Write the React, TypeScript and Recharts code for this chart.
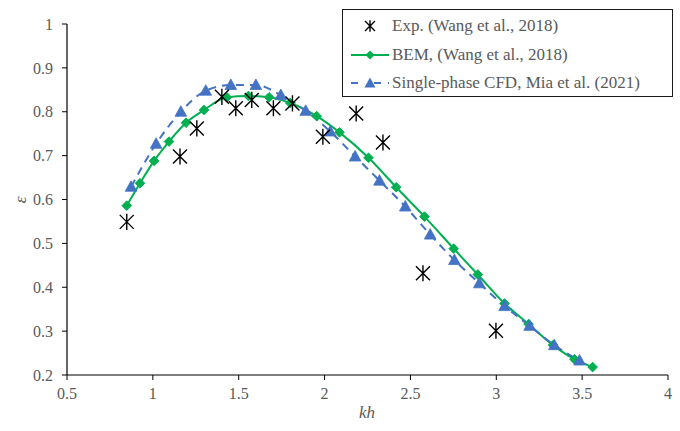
import React from 'react'
import { ComposedChart, Line, XAxis, YAxis, Label } from 'recharts'

// Exp. (Wang et al., 2018)
const expKh = [0.848, 1.158, 1.256, 1.402, 1.483, 1.576, 1.702, 1.813, 1.99, 2.184, 2.34, 2.573, 2.998]
const expEps = [0.549, 0.698, 0.762, 0.834, 0.808, 0.827, 0.808, 0.819, 0.743, 0.796, 0.73, 0.432, 0.301]

// BEM, (Wang et al., 2018)
const bemKh = [0.848, 0.925, 1.007, 1.094, 1.193, 1.298, 1.431, 1.557, 1.677, 1.8, 1.954, 2.087, 2.256, 2.417, 2.582, 2.752, 2.892, 3.048, 3.188, 3.33, 3.455, 3.561]
const bemEps = [0.586, 0.637, 0.688, 0.732, 0.775, 0.804, 0.833, 0.836, 0.833, 0.82, 0.79, 0.753, 0.695, 0.628, 0.561, 0.488, 0.429, 0.363, 0.316, 0.268, 0.236, 0.218]

// Single-phase CFD, Mia et al. (2021)
const cfdKh = [0.873, 1.019, 1.163, 1.308, 1.454, 1.6, 1.745, 1.89, 2.033, 2.178, 2.32, 2.47, 2.615, 2.756, 2.901, 3.048, 3.194, 3.338, 3.485]
const cfdEps = [0.629, 0.727, 0.8, 0.848, 0.861, 0.861, 0.838, 0.802, 0.755, 0.698, 0.643, 0.584, 0.52, 0.462, 0.409, 0.357, 0.312, 0.268, 0.233]

const xTicks = [0.5, 1, 1.5, 2, 2.5, 3, 3.5, 4]
const yTicks = [0.2, 0.3, 0.4, 0.5, 0.6, 0.7, 0.8, 0.9, 1]

const toRows = (xs: number[], ys: number[]) => xs.map((x, i) => ({ x, y: ys[i] }))
const expData = toRows(expKh, expEps)
const bemData = toRows(bemKh, bemEps)
const cfdData = toRows(cfdKh, cfdEps)

const GREEN = '#00B050'
const BLUE = '#4472C4'
const FONT = 'Liberation Serif'
const GREY = '#595959'

const asteriskPath = (cx: number, cy: number, r: number) =>
  `M${cx - r},${cy - r}L${cx + r},${cy + r}M${cx - r},${cy + r}L${cx + r},${cy - r}M${cx},${cy - r * 1.15}L${cx},${cy + r * 1.15}`

const AsteriskDot = (props: any) => {
  const { cx, cy, index } = props
  if (cx == null || cy == null) return <g key={index} />
  return <path key={index} d={asteriskPath(cx, cy, 7)} stroke="#000" strokeWidth={1.4} fill="none" />
}

const DiamondDot = (props: any) => {
  const { cx, cy, index } = props
  if (cx == null || cy == null) return <g key={index} />
  const r = 4.8
  return <path key={index} d={`M${cx},${cy - r}L${cx + r},${cy}L${cx},${cy + r}L${cx - r},${cy}Z`} fill={GREEN} stroke={GREEN} strokeWidth={1} />
}

const TriangleDot = (props: any) => {
  const { cx, cy, index } = props
  if (cx == null || cy == null) return <g key={index} />
  return <path key={index} d={`M${cx},${cy - 6}L${cx + 5.8},${cy + 4.5}L${cx - 5.8},${cy + 4.5}Z`} fill={BLUE} stroke={BLUE} strokeWidth={0.8} />
}

function LegendBox() {
  const row = { display: 'flex', alignItems: 'center', height: 28.5 } as const
  const text = { fontFamily: FONT, fontSize: 17, color: GREY, marginLeft: 3, whiteSpace: 'nowrap' } as const
  return (
    <div
      style={{
        position: 'absolute',
        left: 342,
        top: 9,
        width: 331,
        height: 88,
        boxSizing: 'border-box',
        border: '1.3px solid #1a1a1a',
        background: '#fff',
        paddingTop: 2,
        paddingLeft: 6
      }}
    >
      <div style={row}>
        <svg width={40} height={20}>
          <path d={asteriskPath(21, 10, 5)} stroke="#000" strokeWidth={1.4} fill="none" />
        </svg>
        <span style={text}>Exp. (Wang et al., 2018)</span>
      </div>
      <div style={row}>
        <svg width={40} height={20}>
          <line x1={2} y1={10} x2={40} y2={10} stroke={GREEN} strokeWidth={2} />
          <path d="M21,5.5L25.5,10L21,14.5L16.5,10Z" fill={GREEN} />
        </svg>
        <span style={text}>BEM, (Wang et al., 2018)</span>
      </div>
      <div style={row}>
        <svg width={40} height={20}>
          <line x1={2} y1={10} x2={40} y2={10} stroke={BLUE} strokeWidth={2} strokeDasharray="7 8 0 8 7" />
          <path d="M21,4.5L26.5,14.5L15.5,14.5Z" fill={BLUE} />
        </svg>
        <span style={text}>Single-phase CFD, Mia et al. (2021)</span>
      </div>
    </div>
  )
}

export default function App() {
  const tick = { fill: GREY, fontSize: 16, fontFamily: FONT }
  return (
    <div style={{ position: 'absolute', left: 0, top: 0, width: 680, height: 431, background: '#fff', fontFamily: FONT }}>
      <ComposedChart width={680} height={431} margin={{ top: 24, right: 12, left: 17, bottom: 0 }} style={{ fontFamily: FONT }}>
        <XAxis
          type="number"
          dataKey="x"
          domain={[0.5, 4]}
          ticks={xTicks}
          allowDataOverflow
          tick={tick}
          tickSize={5}
          tickMargin={8}
          height={56}
          stroke="#000"
          tickLine={{ stroke: '#000' }}
          axisLine={{ stroke: '#000', strokeWidth: 1.2 }}
        >
          <Label
            content={() => (
              <text x={367} y={418} textAnchor="middle" fontFamily={FONT} fontStyle="italic" fontSize={17} fill={GREY}>
                kh
              </text>
            )}
          />
        </XAxis>
        <YAxis
          type="number"
          dataKey="y"
          domain={[0.2, 1]}
          ticks={yTicks}
          allowDataOverflow
          tick={tick}
          tickSize={5}
          tickMargin={9}
          width={50}
          stroke="#000"
          tickLine={{ stroke: '#000' }}
          axisLine={{ stroke: '#000', strokeWidth: 1.2 }}
        >
          <Label
            content={() => (
              <text
                x={20}
                y={200}
                transform="rotate(-90 20 200)"
                textAnchor="middle"
                dominantBaseline="central"
                fontFamily={FONT}
                fontStyle="italic"
                fontSize={17}
                fill={GREY}
              >
                ε
              </text>
            )}
          />
        </YAxis>
        <Line
          data={bemData}
          dataKey="y"
          type="monotone"
          stroke={GREEN}
          strokeWidth={2}
          dot={DiamondDot}
          isAnimationActive={false}
        />
        <Line
          data={cfdData}
          dataKey="y"
          type="monotone"
          stroke={BLUE}
          strokeWidth={2}
          strokeDasharray="8 6"
          dot={TriangleDot}
          isAnimationActive={false}
        />
        <Line
          data={expData}
          dataKey="y"
          stroke="none"
          dot={AsteriskDot}
          isAnimationActive={false}
        />
      </ComposedChart>
      <LegendBox />
    </div>
  )
}
